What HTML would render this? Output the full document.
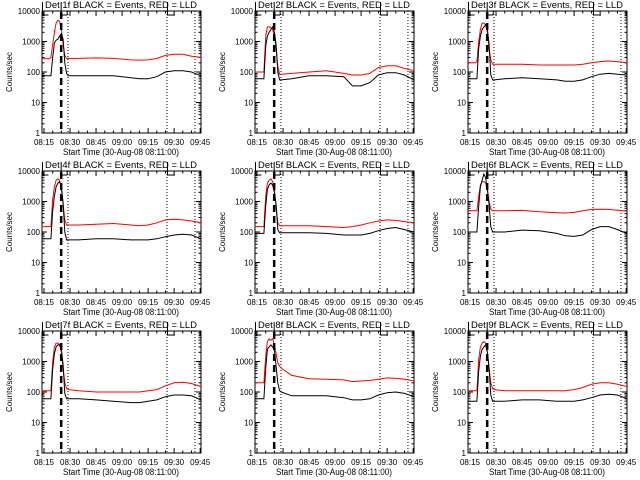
<!DOCTYPE html>
<html><head><meta charset="utf-8">
<style>
html,body{margin:0;padding:0;background:#fff;}
svg{display:block;}
text{font-family:"Liberation Sans",sans-serif;fill:#000;}
</style></head>
<body>
<svg id="chart" width="640" height="480" viewBox="0 0 640 480" xmlns="http://www.w3.org/2000/svg">
<rect x="0" y="0" width="640" height="480" fill="#fff"/>
</svg>
<script>
// minutes relative to 08:15
const times = [-1.2,3,4,5,6,7,8,9,10,11,12,13,14,20,30,40,50,55,60,65,70,75,80,85,90.5];
const xTickLabels = ["08:15","08:30","08:45","09:00","09:15","09:30","09:45"];
const xTickMinutes = [0,15,30,45,60,75,90];
const yTickValues = [1,10,100,1000,10000];
const yTickLabels = ["1","10","100","1000","10000"];
const detLabels = ["1f","2f","3f","4f","5f","6f","7f","8f","9f"];
const det1Red = [270,270,300,800,2000,4000,5000,4500,2500,800,350,280,280,280,290,280,250,245,250,280,350,380,380,330,300];
const det1Black = [75,75,75,300,900,1100,1200,1500,1800,1200,200,90,75,75,75,75,65,60,60,70,100,110,110,100,75];
const det2Red = [100,100,100,1500,3000,3000,2800,2500,1500,600,150,85,85,90,100,110,90,80,80,90,140,160,160,130,110];
const det2Black = [60,60,60,700,1500,2000,2500,3000,2000,800,100,55,55,60,75,75,70,35,35,45,80,95,95,80,55];
const det3Red = [200,200,220,1000,2500,4000,4000,3500,2000,600,250,180,180,180,180,170,170,170,170,180,200,220,230,220,200];
const det3Black = [60,60,60,600,1500,2500,3000,3500,2500,800,80,55,55,60,65,60,55,50,50,55,70,85,90,85,80];
const det4Red = [150,150,150,1200,3000,5000,5500,5000,2500,800,250,170,170,170,180,190,170,160,170,200,250,260,250,230,200];
const det4Black = [60,60,60,500,1500,3000,4000,4500,3000,900,100,55,55,55,60,60,55,55,55,60,70,80,85,80,60];
const det5Red = [150,150,150,1500,4000,5000,5500,4500,2500,700,200,160,160,160,160,150,140,150,170,200,230,250,240,220,200];
const det5Black = [90,90,90,700,2500,3500,4000,3500,2000,800,120,95,95,95,95,90,80,80,80,90,110,130,140,120,100];
const det6Red = [500,500,500,1500,3500,4500,4500,4000,2500,1000,550,500,500,500,510,460,430,420,440,500,550,560,550,520,480];
const det6Black = [100,100,100,700,3000,5000,8000,6000,2500,800,150,100,100,100,115,110,90,75,72,80,120,150,150,120,90];
const det7Red = [110,110,110,1000,3000,4000,4000,3500,2000,600,200,130,120,110,100,100,100,100,110,120,160,200,210,190,150];
const det7Black = [60,60,60,600,1800,3000,3500,3500,2500,800,90,60,60,60,55,50,45,45,50,55,70,80,80,75,55];
const det8Red = [200,200,200,1500,4500,5500,5000,5500,3500,1800,900,700,600,350,270,260,250,220,230,240,260,290,280,260,230];
const det8Black = [60,60,60,600,2500,3000,3500,3000,2500,700,200,110,100,75,75,75,65,55,55,60,80,95,100,90,70];
const det9Red = [110,110,110,1200,3000,4000,4500,4000,2000,600,200,130,120,110,110,110,110,110,120,140,180,200,200,180,150];
const det9Black = [50,50,50,500,1500,2500,3000,3500,2000,600,80,50,50,50,55,55,50,50,50,55,65,80,85,80,60];
const redSeries = [det1Red,det2Red,det3Red,det4Red,det5Red,det6Red,det7Red,det8Red,det9Red];
const blackSeries = [det1Black,det2Black,det3Black,det4Black,det5Black,det6Black,det7Black,det8Black,det9Black];
const dashedMinute = 9.9;
const dottedMinutes = [13.8,70.9,87];

const NS = "http://www.w3.org/2000/svg";
const svg = document.getElementById("chart");
function mk(tag, attrs, parent){
  const e = document.createElementNS(NS, tag);
  for (const k in attrs) e.setAttribute(k, attrs[k]);
  parent.appendChild(e);
  return e;
}
const L=42,R=201,T=11,B=133;
for (let p=0;p<9;p++){
  const ox=(p%3)*213, oy=Math.floor(p/3)*160;
  const g = mk("g",{transform:`translate(${ox},${oy})`},svg);
  
  
  const xs = m => 44 + m*1.735;
  const ys = v => B - (Math.log10(v))*(B-T)/4;
  // box
  const box = mk("rect",{x:L,y:T,width:R-L,height:B-T,fill:"none",stroke:"#000","stroke-width":1},g);
  
  
  // y ticks
  for (let d=0; d<4; d++){
    for (let k=2;k<=9;k++){
      const y=ys(k*Math.pow(10,d));
      mk("line",{x1:L,x2:L+2.5,y1:y,y2:y,stroke:"#000"},g);
      mk("line",{x1:R,x2:R-2.5,y1:y,y2:y,stroke:"#000"},g);
    }
  }
  yTickValues.forEach((v,i)=>{
    const y=ys(v);
    mk("line",{x1:L,x2:L+5,y1:y,y2:y,stroke:"#000"},g);
    mk("line",{x1:R,x2:R-5,y1:y,y2:y,stroke:"#000"},g);
    const t=mk("text",{x:40,y:y+3,"font-size":8,"text-anchor":"end"},g);
    t.textContent=yTickLabels[i];
    
    
  });
  // x ticks
  for (let m=-0; m<=90; m+=5){
    const x=xs(m);
    const len = (m%15===0)?5:2.5;
    mk("line",{x1:x,x2:x,y1:B,y2:B-len,stroke:"#000"},g);
    mk("line",{x1:x,x2:x,y1:T,y2:T+len,stroke:"#000"},g);
  }
  xTickMinutes.forEach((m,i)=>{
    const t=mk("text",{x:xs(m),y:145,"font-size":8,"text-anchor":"middle"},g);
    t.textContent=xTickLabels[i];
    
    
  });
  // titles
  const tt=mk("text",{x:121,y:8,"font-size":9,"text-anchor":"middle",textLength:152,lengthAdjust:"spacingAndGlyphs"},g);
  tt.textContent="Det "+detLabels[p]+" BLACK = Events, RED = LLD";
  
  
  const xt=mk("text",{x:121,y:155,"font-size":9,"text-anchor":"middle",textLength:116,lengthAdjust:"spacingAndGlyphs"},g);
  xt.textContent="Start Time (30-Aug-08 08:11:00)";
  
  
  const yt=mk("text",{x:0,y:0,"font-size":8,"text-anchor":"middle",transform:"translate(12,72) rotate(-90)",textLength:40,lengthAdjust:"spacingAndGlyphs"},g);
  yt.textContent="Counts/sec";
  
  
  // markers at top
  [L+0.5, xs(dashedMinute), 167.5].forEach(x=>{
    mk("path",{d:`M${x},2 V15 H${x+6}`,fill:"none",stroke:"#000"},g);
  });
  mk("path",{d:`M${xs(dashedMinute)+2},11 H${xs(dashedMinute)+6} V15`,fill:"none",stroke:"#000"},g);
  // dotted lines
  dottedMinutes.forEach(m=>{
    const ln=mk("line",{x1:xs(m),x2:xs(m),y1:T,y2:B,stroke:"#000","stroke-dasharray":"1,2"},g);
    
    
  });
  // series
  const pts = arr => arr.map((v,i)=>xs(times[i]).toFixed(1)+","+ys(v).toFixed(1)).join(" ");
  const rl=mk("polyline",{points:pts(redSeries[p]),fill:"none",stroke:"#ff0000","stroke-width":1},g);
  
  
  const bl=mk("polyline",{points:pts(blackSeries[p]),fill:"none",stroke:"#000","stroke-width":1},g);
  
  
  const dl=mk("line",{x1:xs(dashedMinute),x2:xs(dashedMinute),y1:T+1,y2:B-1,stroke:"#000","stroke-width":2.5,"stroke-dasharray":"7,4"},g);
  
  
}
</script>
</body></html>
